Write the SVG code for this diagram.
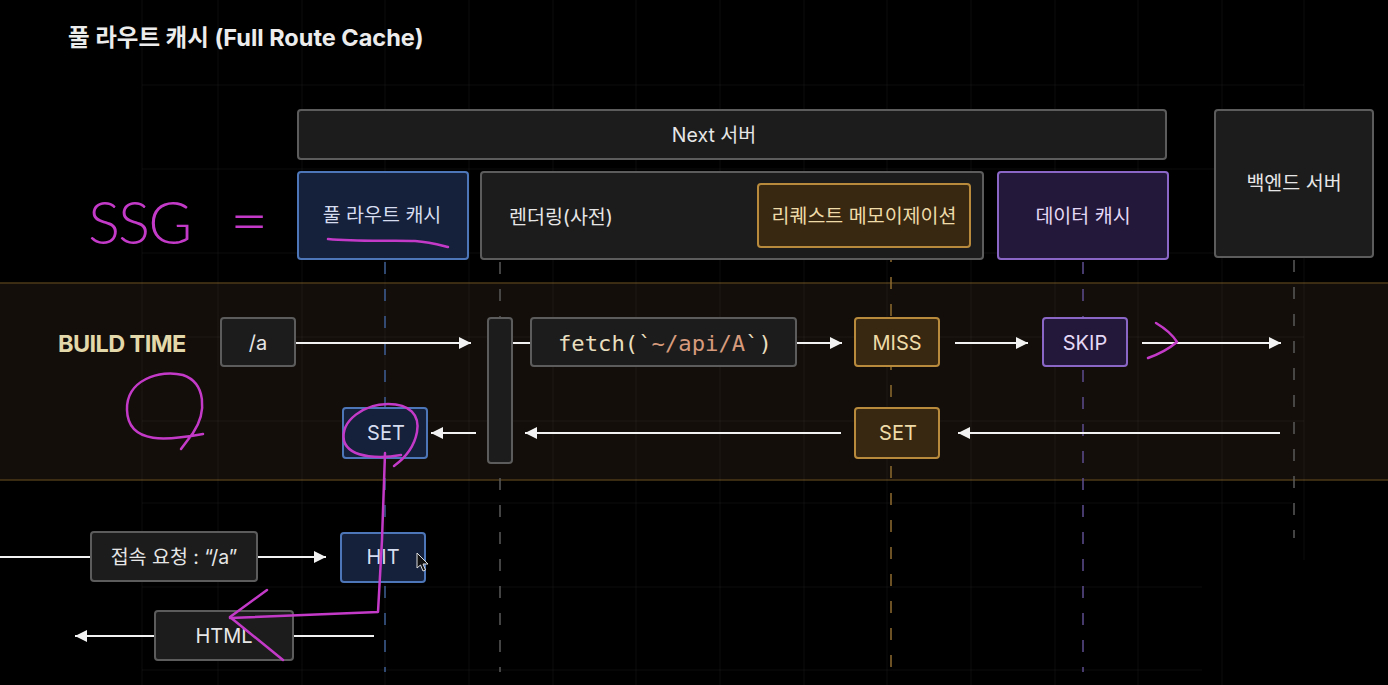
<svg xmlns="http://www.w3.org/2000/svg" width="1388" height="685" viewBox="0 0 1388 685">
<style>
.t{font-family:"Inter","Noto Sans CJK KR",sans-serif;font-size:19.5px;fill:#e6e6e6;text-anchor:middle;dominant-baseline:central}
.s{font-size:20px}
.gray{fill:#1c1c1c;stroke:#5c5c5c;stroke-width:2}
.blue{fill:#15203a;stroke:#4d76b8;stroke-width:2}
.orange{fill:#382812;stroke:#b88a3c;stroke-width:2}
.purple{fill:#23183a;stroke:#8a66c6;stroke-width:2}
.tb{fill:#d6ddf0}
.to{fill:#eedba8}
.tp{fill:#e4d8f6}
.arrow{stroke:#f2f2f2;stroke-width:2;fill:none}
.ah{marker-end:url(#ah)}
.life{stroke-width:1.5;stroke-dasharray:12 15;fill:none}
.ink{stroke:#c43ac8;stroke-width:2.5;fill:none;stroke-linecap:round;stroke-linejoin:round}
</style>
<defs>
<marker id="ah" markerUnits="userSpaceOnUse" markerWidth="14" markerHeight="14" refX="12" refY="6" orient="auto">
<path d="M0,0 L12,6 L0,12 z" fill="#f2f2f2"/>
</marker>
</defs>
<rect x="0" y="0" width="1388" height="685" fill="#000"/>
<g id="band">
<rect x="0" y="283" width="1388" height="197" fill="#130e09"/>
<line x1="0" y1="283" x2="1388" y2="283" stroke="#4d3819" stroke-width="1.5"/>
<line x1="0" y1="480" x2="1388" y2="480" stroke="#4d3819" stroke-width="1.5"/>
</g>
<g id="grid" stroke="#ffffff" stroke-opacity="0.05" stroke-width="1">
<path d="M142,0V685 M218,0V685 M302,0V685 M385,0V685 M469,0V685 M553,0V685 M636,0V685 M720,0V685 M804,0V685 M887,0V685 M971,0V685 M1055,0V685 M1138,0V685 M1222,0V685 M1304,0V560"/>
<path d="M142,85H1304 M142,169H1304 M142,253H1304 M142,337H1304 M142,421H1304 M142,503H1292 M142,587H1202 M142,670H1202"/>
</g>
<text x="68" y="37" style="font-family:'Inter','Noto Sans CJK KR',sans-serif;font-size:23.5px;font-weight:700;fill:#ececec;dominant-baseline:central">풀 라우트 캐시 (Full Route Cache)</text>
<g id="lifelines">
<line class="life" x1="385" y1="262" x2="385" y2="672" stroke="#3d5f94"/>
<line class="life" x1="500" y1="262" x2="500" y2="672" stroke="#5a5a5a"/>
<line class="life" x1="891" y1="250" x2="891" y2="672" stroke="#8e6c30"/>
<line class="life" x1="1083" y1="262" x2="1083" y2="672" stroke="#5e4c8e"/>
<line class="life" x1="1294" y1="260" x2="1294" y2="538" stroke="#5a5a5a"/>
</g>
<g id="next-server"><rect class="gray" x="298" y="110" width="868" height="49" rx="3"/><text class="t" x="714" y="135">Next 서버</text></g>
<g id="full-route-cache"><rect class="blue" x="298" y="172" width="170" height="87" rx="3"/><text class="t tb" x="382" y="215">풀 라우트 캐시</text></g>
<g id="rendering"><rect class="gray" x="481" y="172" width="502" height="87" rx="3"/><text class="t" x="509" y="217" style="text-anchor:start">렌더링(사전)</text></g>
<g id="request-memo"><rect class="orange" x="758" y="184" width="212" height="63" rx="3"/><text class="t to" x="864" y="216">리퀘스트 메모이제이션</text></g>
<g id="data-cache"><rect class="purple" x="998" y="172" width="170" height="87" rx="3"/><text class="t tp" x="1083" y="216">데이터 캐시</text></g>
<g id="backend"><rect class="gray" x="1215" y="110" width="158" height="147" rx="3"/><text class="t" x="1294" y="183">백엔드 서버</text></g>
<text x="58" y="343" style="font-family:'Inter','Noto Sans',sans-serif;font-size:23.5px;font-weight:700;fill:#e2d8aa;dominant-baseline:central;letter-spacing:-0.6px">BUILD TIME</text>
<g id="connectors">
<line class="arrow ah" x1="296" y1="343" x2="471" y2="343"/>
<line class="arrow" x1="512" y1="343" x2="531" y2="343"/>
<line class="arrow ah" x1="796" y1="343" x2="842" y2="343"/>
<line class="arrow ah" x1="955" y1="343" x2="1028" y2="343"/>
<line class="arrow ah" x1="1142" y1="343" x2="1281" y2="343"/>
<line class="arrow ah" x1="1280" y1="433" x2="958" y2="433"/>
<line class="arrow ah" x1="841" y1="433" x2="525" y2="433"/>
<line class="arrow ah" x1="476" y1="433" x2="431" y2="433"/>
<line class="arrow" x1="0" y1="557" x2="91" y2="557"/>
<line class="arrow ah" x1="257" y1="557" x2="326" y2="557"/>
<line class="arrow" x1="293" y1="636" x2="374" y2="636"/>
<line class="arrow ah" x1="155" y1="636" x2="75" y2="636"/>
</g>
<g id="path-a"><rect class="gray" x="221" y="318" width="74" height="48" rx="3"/><text class="t s" x="258" y="343">/a</text></g>
<g id="render-activation"><rect class="gray" x="488" y="318" width="24" height="145" rx="3"/></g>
<g id="fetch"><rect class="gray" x="531" y="318" width="265" height="48" rx="3"/>
<text x="665" y="343" textLength="214" lengthAdjust="spacingAndGlyphs" style="font-family:'DejaVu Sans Mono','Liberation Mono',monospace;font-size:22px;text-anchor:middle;dominant-baseline:central;fill:#e8dfbf">fetch(`<tspan fill="#d79b7c">~/api/A</tspan>`)</text></g>
<g id="miss"><rect class="orange" x="855" y="318" width="84" height="48" rx="3"/><text class="t to s" x="897" y="343">MISS</text></g>
<g id="skip"><rect class="purple" x="1043" y="318" width="84" height="48" rx="3"/><text class="t tp s" x="1085" y="343">SKIP</text></g>
<g id="set-data"><rect class="orange" x="855" y="408" width="84" height="50" rx="3"/><text class="t to s" x="898" y="433">SET</text></g>
<g id="set-route"><rect class="blue" x="343" y="408" width="84" height="50" rx="3"/><text class="t tb s" x="386" y="433">SET</text></g>
<g id="request"><rect class="gray" x="91" y="532" width="166" height="49" rx="3"/><text class="t" x="174" y="557">접속 요청 : “/a”</text></g>
<g id="hit"><rect class="blue" x="341" y="533" width="84" height="49" rx="3"/><text class="t tb s" x="383" y="557">HIT</text></g>
<g id="html"><rect class="gray" x="155" y="611" width="138" height="49" rx="3"/><text class="t s" x="224" y="636">HTML</text></g>
<g id="annotations">
<text x="88" y="244" style="font-family:'Lato','DejaVu Sans',sans-serif;font-weight:300;font-size:60px;fill:#c43ac8;letter-spacing:-2px">SSG<tspan x="230" style="font-size:66px">=</tspan></text>
<path class="ink" d="M328,239 C360,242 395,240 415,241 C430,242 440,245 448,247"/>
<path class="ink" d="M203,434 C170,440 128,446 127,410 C126,380 160,369 183,375 C206,383 207,412 193,433 L181,449"/>
<path class="ink" d="M401,455 C385,458 350,460 344,441 C340,420 365,404 388,404 C410,404 420,415 417,432 C414,448 405,458 394,466"/>
<path class="ink" d="M385,453 L382,540 L378,612 C330,614 280,616 230,618"/>
<path class="ink" d="M267,590 L230,617 L283,660"/>
<path class="ink" d="M1156,323 Q1171,332 1177,342 Q1165,352 1148,358"/>
</g>
<path id="cursor" d="M417,553 L417,568 L420.5,565 L423,571 L425.5,570 L423,564 L428,564 Z" fill="#111" stroke="#ddd" stroke-width="1"/>
</svg>
